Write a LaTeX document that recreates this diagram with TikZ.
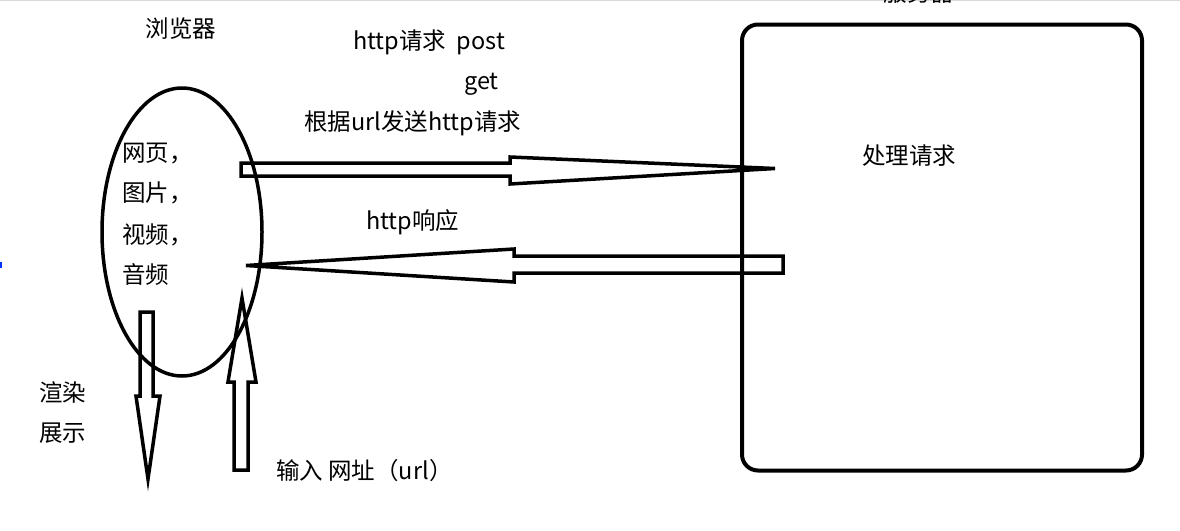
\documentclass[tikz,border=0pt]{standalone}
\usepackage{fontspec}
\setmainfont{Noto Sans CJK SC}
\usetikzlibrary{shapes.geometric}
\begin{document}
\begin{tikzpicture}[x=1pt,y=-1pt,
  lbl/.style={font=\fontsize{23.5}{27}\selectfont, inner sep=0pt, text=black},
  outl/.style={draw=black, line width=3.5pt, line join=round},
  blockarrow/.style={draw=black, line width=3.5pt, line join=miter, fill=white}]
\useasboundingbox (0,0) rectangle (1180,530);
\clip (0,0) rectangle (1180,530);
\fill[white] (0,0) rectangle (1180,530);
\draw[gray!30, line width=1.5pt] (0,0.5) -- (1180,0.5);
\fill[blue!80!cyan] (0,262) rectangle (1.5,268);

% request arrow (to server)
\draw[blockarrow] (241,163) -- (510,163) -- (510,157) -- (775,168.5) -- (510,184) -- (510,176) -- (241,176) -- cycle;
% response arrow (to browser)
\draw[blockarrow] (783,256) -- (514,256) -- (514,249) -- (246,265.5) -- (514,282) -- (514,273) -- (783,273) -- cycle;
% render arrow (down)
\draw[blockarrow] (140,312) -- (153,312) -- (153,396) -- (160,396) -- (148,479) -- (136,396) -- (140,396) -- cycle;
% input arrow (up)
\draw[blockarrow] (234,470) -- (248,470) -- (248,382) -- (256,382) -- (242,298) -- (228,382) -- (234,382) -- cycle;

% browser ellipse
\node[outl, ellipse, minimum width=160pt, minimum height=288pt, inner sep=0pt, outer sep=0pt] (browser) at (182,232) {};
% server box
\node[draw=black, line width=4pt, rounded corners=16pt, minimum width=400pt, minimum height=446pt, inner sep=0pt, outer sep=0pt] (server) at (942,247.5) {};

% texts
\node[lbl] (tbrowser) at (181,29) {浏览器};
\node[lbl] (tserver) at (919,-7) {服务器};
\node[lbl, anchor=west] (treq) at (353,42) {http请求\ \ post};
\node[lbl, anchor=west] (tget) at (464,84) {get};
\node[lbl, anchor=west] (tsend) at (304,123) {根据url发送http请求};
\node[lbl, anchor=west] (t1) at (122,154) {网页，};
\node[lbl, anchor=west] (t2) at (122,193) {图片，};
\node[lbl, anchor=west] (t3) at (122,235) {视频，};
\node[lbl, anchor=west] (t4) at (122,275) {音频};
\node[lbl] (tproc) at (909,156) {处理请求};
\node[lbl, anchor=west] (tresp) at (366,222) {http响应};
\node[lbl, anchor=west] (tr1) at (39,393) {渲染};
\node[lbl, anchor=west] (tr2) at (39,433) {展示};
\node[lbl, anchor=west] (tin) at (276,471) {输入 网址（url）};
\end{tikzpicture}
\end{document}
